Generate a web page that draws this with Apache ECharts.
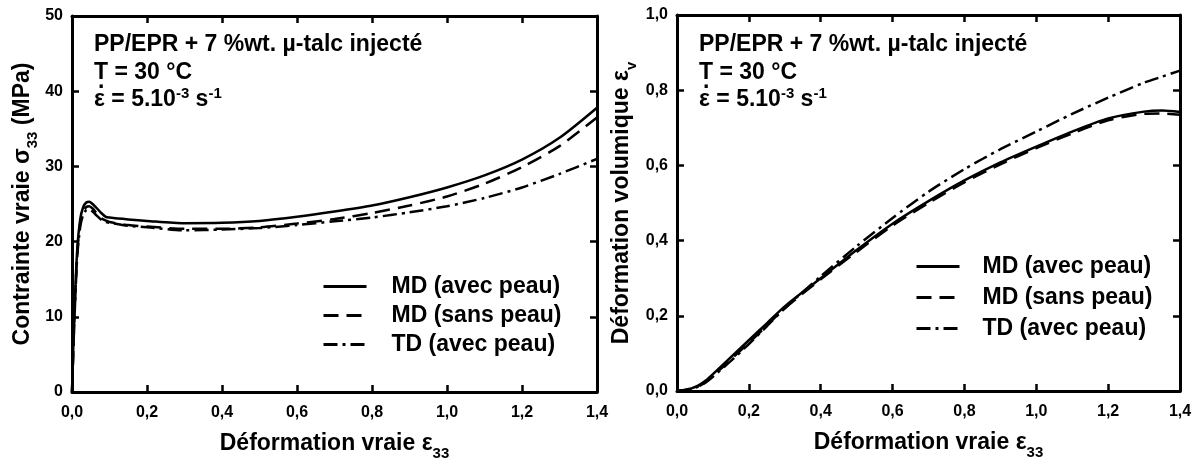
<!DOCTYPE html>
<html lang="fr">
<head>
    <meta charset="UTF-8">
    <title>PP/EPR + 7 %wt. µ-talc injecté</title>
    <script src="https://cdn.jsdelivr.net/npm/echarts@6/dist/echarts.min.js"></script>
    <style>
        body { margin: 0; background: #fff; }
        #main { width: 1199px; height: 466px; }
    </style>
</head>
<body>
<div id="main"></div>
<script type="text/javascript">
    // tick labels
    var xTicks = ['0,0', '0,2', '0,4', '0,6', '0,8', '1,0', '1,2', '1,4'];
    var stressTicks = ['0', '10', '20', '30', '40', '50'];
    var volTicks = ['0,0', '0,2', '0,4', '0,6', '0,8', '1,0'];
    var names = ['MD (avec peau)', 'MD (sans peau)', 'TD (avec peau)'];

    // contrainte vraie (MPa) vs deformation vraie
    var epsStress = [0, 0.006, 0.014, 0.022, 0.03, 0.038, 0.046, 0.055, 0.065, 0.078, 0.09, 0.1, 0.15, 0.2,
        0.3, 0.4, 0.5, 0.6, 0.7, 0.8, 0.9, 1.0, 1.1, 1.2, 1.3, 1.4];
    var stressMDavec = [0, 10, 19, 23, 24.6, 25.2, 25.3, 25.0, 24.5, 23.8, 23.3, 23.2, 22.95, 22.75,
        22.45, 22.5, 22.75, 23.3, 24.0, 24.8, 25.9, 27.2, 28.8, 30.9, 33.8, 37.8];
    var stressMDsans = [0, 9.5, 18.5, 22.5, 24.0, 24.6, 24.7, 24.4, 23.8, 23.1, 22.8, 22.6, 22.2, 22.0,
        21.7, 21.7, 21.9, 22.4, 23.0, 23.8, 24.8, 26.0, 27.7, 29.9, 32.7, 36.5];
    var stressTDavec = [0, 9, 18, 22, 23.6, 24.2, 24.3, 24.0, 23.5, 22.9, 22.6, 22.5, 22.1, 21.9,
        21.5, 21.6, 21.8, 22.2, 22.7, 23.2, 23.9, 24.7, 25.8, 27.2, 29.0, 31.0];

    // deformation volumique vs deformation vraie
    var epsVol = [0, 0.02, 0.04, 0.06, 0.08, 0.1, 0.15, 0.2, 0.25, 0.3, 0.4, 0.5, 0.6, 0.7, 0.8, 0.9,
        1.0, 1.1, 1.2, 1.3, 1.35, 1.4];
    var volMDavec = [0, 0.003, 0.007, 0.015, 0.028, 0.045, 0.09, 0.135, 0.18, 0.225, 0.30, 0.375, 0.445,
        0.505, 0.56, 0.608, 0.65, 0.69, 0.725, 0.743, 0.746, 0.742];
    var volMDsans = [0, 0.002, 0.005, 0.012, 0.024, 0.04, 0.084, 0.128, 0.174, 0.22, 0.297, 0.37, 0.44,
        0.5, 0.555, 0.603, 0.646, 0.685, 0.72, 0.737, 0.738, 0.735];
    var volTDavec = [0, 0.002, 0.005, 0.012, 0.023, 0.038, 0.08, 0.125, 0.172, 0.22, 0.305, 0.385, 0.46,
        0.53, 0.59, 0.643, 0.69, 0.737, 0.78, 0.82, 0.836, 0.852];

    var FONT = 'Liberation Sans';
    var BIG = 23;
    var lineTypes = ['solid', [15, 8], [14, 5, 3, 5]];

    function pairs(xs, ys) {
        var out = [];
        for (var i = 0; i < xs.length; i++) out.push([xs[i], ys[i]]);
        return out;
    }

    function tickFmt(list, step) {
        return function (v) { return list[Math.round(v / step)]; };
    }

    var subRich = {
        sub: {fontSize: 15, fontWeight: 'bold', fontFamily: FONT, color: '#000', verticalAlign: 'bottom', lineHeight: 14},
        m: {fontSize: BIG, fontWeight: 'bold', fontFamily: FONT, color: '#000', verticalAlign: 'middle', lineHeight: 34}
    };

    function xAxisBottom(grid, name) {
        return {
            type: 'value', gridIndex: grid, position: 'bottom', min: 0, max: 1.4, interval: 0.2,
            name: name, nameLocation: 'middle', nameGap: 35,
            nameTextStyle: {fontSize: BIG, fontWeight: 'bold', fontFamily: FONT, color: '#000', rich: subRich},
            axisLine: {onZero: false, lineStyle: {color: '#000', width: 3}},
            axisTick: {inside: true, length: 7, lineStyle: {color: '#000', width: 2.5}},
            axisLabel: {margin: 13, fontSize: 16, fontWeight: 'bold', fontFamily: FONT, color: '#000',
                formatter: tickFmt(xTicks, 0.2)},
            splitLine: {show: false}
        };
    }

    function xAxisTop(grid) {
        return {
            type: 'value', gridIndex: grid, position: 'top', min: 0, max: 1.4, interval: 0.2,
            axisLine: {onZero: false, lineStyle: {color: '#000', width: 3}},
            axisTick: {inside: true, length: 7, lineStyle: {color: '#000', width: 2.5}},
            axisLabel: {show: false}, splitLine: {show: false}
        };
    }

    function yAxisLeft(grid, max, step, list, name, gap) {
        return {
            type: 'value', gridIndex: grid, position: 'left', min: 0, max: max, interval: step,
            name: name, nameLocation: 'middle', nameGap: gap,
            nameTextStyle: {fontSize: BIG, fontWeight: 'bold', fontFamily: FONT, color: '#000', rich: subRich},
            axisLine: {show: true, onZero: false, lineStyle: {color: '#000', width: 3}},
            axisTick: {show: true, inside: true, length: 7, lineStyle: {color: '#000', width: 2.5}},
            axisLabel: {margin: 9, fontSize: 16, fontWeight: 'bold', fontFamily: FONT, color: '#000',
                formatter: tickFmt(list, step)},
            splitLine: {show: false}
        };
    }

    function yAxisRight(grid, max, step) {
        return {
            type: 'value', gridIndex: grid, position: 'right', min: 0, max: max, interval: step,
            axisLine: {show: true, onZero: false, lineStyle: {color: '#000', width: 3}},
            axisTick: {show: true, inside: true, length: 7, lineStyle: {color: '#000', width: 2.5}},
            axisLabel: {show: false}, splitLine: {show: false}
        };
    }

    function curve(i, xIdx, yIdx, xs, ys) {
        return {
            name: names[i], type: 'line', xAxisIndex: xIdx, yAxisIndex: yIdx,
            data: pairs(xs, ys), showSymbol: false, symbol: 'none',
            smooth: 0.25,
            lineStyle: {color: '#000', width: 2.5, type: lineTypes[i]},
            itemStyle: {color: '#000'},
            z: 3 - i
        };
    }

    function legendAt(left, top, gap, pad) {
        return {
            data: names, orient: 'vertical', left: left, top: top, padding: 0,
            itemWidth: 43, itemHeight: 14, itemGap: gap, selectedMode: false,
            itemStyle: {opacity: 0},
            lineStyle: {width: 3},
            textStyle: {fontSize: BIG, fontWeight: 'bold', fontFamily: FONT, color: '#000', padding: [0, 0, 0, pad]}
        };
    }

    var noteText = 'PP/EPR + 7 %wt. µ-talc injecté\nT = 30 °C\nε = 5.10{sup|-3} s{sup|-1}';
    function note(left) {
        return {
            type: 'text', left: left, top: 31, z: 10,
            style: {
                text: noteText, fontSize: BIG, fontWeight: 'bold', fontFamily: FONT, fill: '#000', lineHeight: 27.5,
                rich: {sup: {fontSize: 15, fontWeight: 'bold', fontFamily: FONT, fill: '#000', verticalAlign: 'top'}}
            }
        };
    }
    // point au-dessus de epsilon (derivee temporelle)
    function dot(left) {
        return {
            type: 'text', left: left, top: 70, z: 11,
            style: {text: '.', fontSize: BIG, fontWeight: 'bold', fontFamily: FONT, fill: '#000'}
        };
    }

    var chart = echarts.init(document.getElementById('main'), null, {renderer: 'canvas'});
    var option = {
        backgroundColor: '#fff',
        animation: false,
        grid: [
            {left: 72, top: 16, width: 525, height: 376},
            {left: 677, top: 15, width: 503, height: 376}
        ],
        xAxis: [
            xAxisBottom(0, '{m|Déformation vraie ε}{sub|33}'),
            xAxisBottom(1, '{m|Déformation vraie ε}{sub|33}'),
            xAxisTop(0), xAxisTop(1)
        ],
        yAxis: [
            yAxisLeft(0, 50, 10, stressTicks, '{m|Contrainte vraie σ}{sub|33}{m| (MPa)}', 32),
            yAxisLeft(1, 1.0, 0.2, volTicks, '{m|Déformation volumique ε}{sub|v}', 38),
            yAxisRight(0, 50, 10), yAxisRight(1, 1.0, 0.2)
        ],
        legend: [legendAt(322, 275, 6, 20), legendAt(915, 255, 8, 18)],
        graphic: [note(94), note(699), dot(98), dot(703)],
        series: [
            curve(0, 0, 0, epsStress, stressMDavec),
            curve(1, 0, 0, epsStress, stressMDsans),
            curve(2, 0, 0, epsStress, stressTDavec),
            curve(0, 1, 1, epsVol, volMDavec),
            curve(1, 1, 1, epsVol, volMDsans),
            curve(2, 1, 1, epsVol, volTDavec)
        ]
    };
    chart.setOption(option);
</script>
</body>
</html>
